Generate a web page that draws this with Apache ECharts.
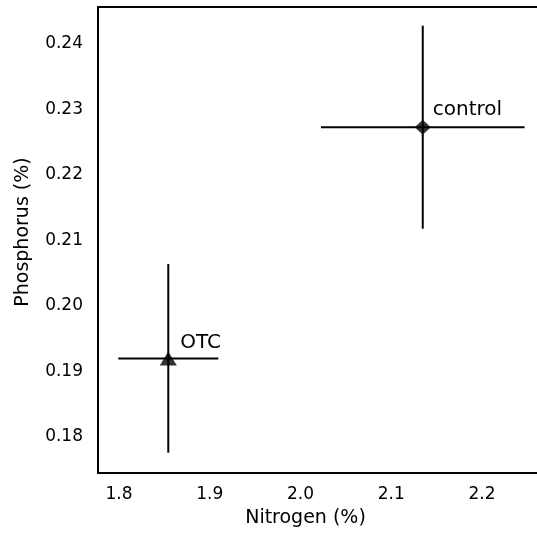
<!DOCTYPE html>
<html>
<head>
<meta charset="utf-8">
<script src="https://cdn.jsdelivr.net/npm/echarts@6/dist/echarts.min.js"></script>
<style>
html,body{margin:0;padding:0;background:#fff;overflow:hidden;}
#chart{width:537px;height:539px;}
</style>
</head>
<body>
<div id="chart"></div>
<script>
// Data
var groups = ['control', 'OTC'];
var nitrogen = [2.1347, 1.8543];
var nitrogenErr = [0.1122, 0.0551];
var phosphorus = [0.2273, 0.1920];
var phosphorusErr = [0.0155, 0.0144];
var symbols = ['diamond', 'triangle'];
var xTicks = [1.8, 1.9, 2.0, 2.1, 2.2];
var yTicks = [0.18, 0.19, 0.20, 0.21, 0.22, 0.23, 0.24];

var FONT = 'DejaVu Sans';
var chart = echarts.init(document.getElementById('chart'), null, {renderer: 'canvas'});

var errData = groups.map(function (g, i) {
  return [nitrogen[i], phosphorus[i], nitrogenErr[i], phosphorusErr[i], g];
});
var pointData = groups.map(function (g, i) {
  return {value: [nitrogen[i], phosphorus[i]], symbol: symbols[i], symbolSize: i === 0 ? [16, 15] : [17, 14], name: g};
});

var X_MIN = 1.77686, X_MAX = 2.2716;

chart.setOption({
  animation: false,
  backgroundColor: '#fff',
  grid: {left: 98, top: 7, right: -10, bottom: 66, containLabel: false, outerBoundsMode: 'none', show: false},
  xAxis: [{
    type: 'value', min: X_MIN, max: X_MAX,
    name: 'Nitrogen (%)', nameLocation: 'middle', nameGap: 36,
    nameTextStyle: {fontFamily: FONT, fontSize: 19, color: '#000', padding: [0, 34, 0, 0]},
    axisLine: {show: true, onZero: false, lineStyle: {color: '#000', width: 2}},
    axisTick: {show: false},
    splitLine: {show: false},
    axisLabel: {customValues: xTicks, margin: 13, fontFamily: FONT, fontSize: 17, color: '#000',
      formatter: function (v) { return v.toFixed(1); }}
  }, {
    type: 'value', min: X_MIN, max: X_MAX, position: 'top',
    axisLine: {show: true, onZero: false, lineStyle: {color: '#000', width: 2}},
    axisTick: {show: false}, axisLabel: {show: false}, splitLine: {show: false}
  }],
  yAxis: {
    type: 'value', min: 0.1745, max: 0.24565,
    name: 'Phosphorus (%)', nameLocation: 'middle', nameGap: 65,
    nameTextStyle: {fontFamily: FONT, fontSize: 19, color: '#000', padding: [0, 0, 0, 16]},
    axisLine: {show: true, onZero: false, lineStyle: {color: '#000', width: 2}},
    axisTick: {show: false},
    splitLine: {show: false},
    axisLabel: {customValues: yTicks, margin: 15, fontFamily: FONT, fontSize: 17, color: '#000',
      formatter: function (v) { return v.toFixed(2); }}
  },
  series: [
    {
      type: 'custom',
      data: errData,
      renderItem: function (params, api) {
        var x = api.value(0), y = api.value(1), ex = api.value(2), ey = api.value(3);
        var l = api.coord([x - ex, y]), r = api.coord([x + ex, y]);
        var t = api.coord([x, y + ey]), b = api.coord([x, y - ey]);
        var c = api.coord([x, y]);
        var style = {stroke: '#000', lineWidth: 2};
        return {
          type: 'group',
          children: [
            {type: 'line', shape: {x1: l[0], y1: l[1], x2: r[0], y2: r[1]}, style: style},
            {type: 'line', shape: {x1: t[0], y1: t[1], x2: b[0], y2: b[1]}, style: style},
            {type: 'text', style: {text: groups[params.dataIndex], x: c[0] + (params.dataIndex === 0 ? 10 : 12), y: c[1] - (params.dataIndex === 0 ? 17 : 16),
              verticalAlign: 'middle', align: 'left', fontFamily: FONT, fontSize: 20, fill: '#000'}}
          ]
        };
      },
      z: 2
    },
    {
      type: 'scatter',
      data: pointData,
      itemStyle: {color: '#000'},
      z: 3
    }
  ]
});
</script>
</body>
</html>
